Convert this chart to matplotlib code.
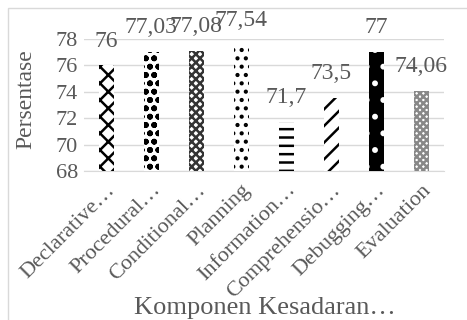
import matplotlib.pyplot as plt
import matplotlib as mpl
from matplotlib.patches import Rectangle

plt.rcParams["font.family"] = ["Liberation Serif", "DejaVu Serif"]
mpl.rcParams["hatch.linewidth"] = 1.8

categories = ["Declarative…", "Procedural…", "Conditional…", "Planning",
              "Information…", "Comprehensio…", "Debugging…", "Evaluation"]
values = [76, 77.03, 77.08, 77.54, 71.7, 73.5, 77, 74.06]
value_labels = ["76", "77,03", "77,08", "77,54", "71,7", "73,5", "77", "74,06"]
yticks = [68, 70, 72, 74, 76, 78]

# black/white fill patterns per bar: (facecolor, hatch colour, hatch)
styles = [
    ("white", "black", "xx"),
    ("white", "black", "oo"),
    ("white", "#333333", "xxxx"),
    ("white", "black", ".."),
    ("white", "black", "--"),
    ("white", "black", "//"),
    ("black", "white", "."),
    ("white", "#888888", "xxxxx"),
]

text_color = "#595959"

fig = plt.figure(figsize=(4.67, 3.2), dpi=100)
ax = fig.add_axes([0.179, 0.466, 0.771, 0.412])

x = range(len(categories))
for i, v in enumerate(values):
    fc, hc, h = styles[i]
    ax.bar(i, v - 68, bottom=68, width=0.33, facecolor=fc, edgecolor=hc,
           hatch=h, linewidth=0, zorder=3)
    ax.annotate(value_labels[i], (i, v), xytext=(0, 10), textcoords="offset points",
                ha="center", va="bottom", fontsize=17, color=text_color,
                annotation_clip=False)

ax.set_ylim(68, 78)
ax.set_xlim(-0.5, len(categories) - 0.5)
ax.set_yticks(yticks)
ax.set_yticklabels([str(t) for t in yticks], fontsize=16, color=text_color)
ax.set_xticks(list(x))
ax.set_xticklabels(categories, rotation=45, ha="right", rotation_mode="anchor",
                   fontsize=16, color=text_color)
ax.tick_params(axis="y", length=0, pad=4)
ax.tick_params(axis="x", length=0, pad=7)
ax.grid(axis="y", color="#d9d9d9", linewidth=1, zorder=0)
for s in ["top", "right", "left"]:
    ax.spines[s].set_visible(False)
ax.spines["bottom"].set_color("#d9d9d9")

fig.text(0.056, 0.69, "Persentase", rotation=90, ha="center", va="center",
         fontsize=17, color=text_color)
fig.text(0.567, 0.038, "Komponen Kesadaran…", ha="center", va="center",
         fontsize=19, color=text_color)

fig.patches.append(Rectangle((8 / 467, -0.1), 1.1, 1 - 8 / 320 + 0.1,
                             transform=fig.transFigure, fill=False,
                             edgecolor="#d9d9d9", linewidth=1))

fig.savefig("out.png", dpi=100)
